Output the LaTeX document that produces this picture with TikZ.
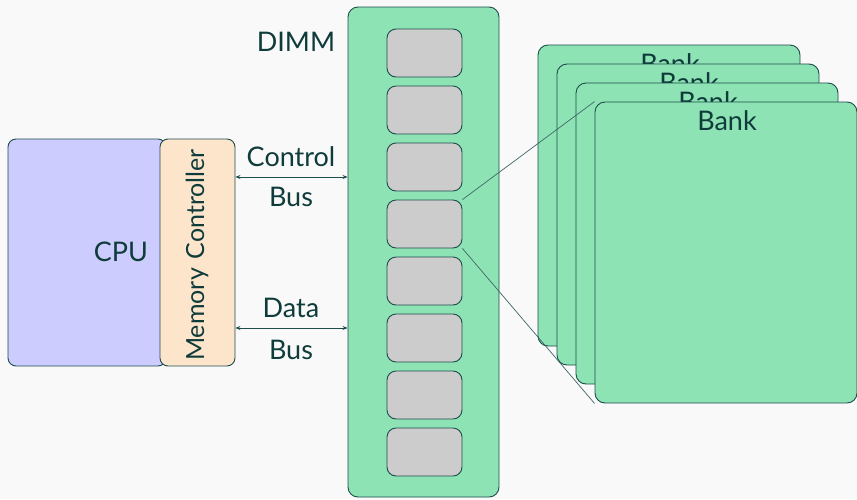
\documentclass[tikz,border=0pt]{standalone}
\usepackage{fontspec}
\setmainfont{Lato}
\usetikzlibrary{arrows.meta}
\definecolor{bg}{HTML}{F9F9F9}
\definecolor{ink}{HTML}{1D4C4C}
\definecolor{txt}{HTML}{0F3B3B}
\definecolor{cpufill}{HTML}{CCCCFF}
\definecolor{mcfill}{HTML}{FDE5CC}
\definecolor{green}{HTML}{8EE3B4}
\definecolor{chipfill}{HTML}{CCCCCC}
\begin{document}
\begin{tikzpicture}[x=1pt,y=-1pt,
  box/.style={draw=ink, line width=0.9pt, rounded corners=8pt, inner sep=0pt},
  chip/.style={box, fill=chipfill, minimum width=75pt, minimum height=48pt, rounded corners=9pt},
  bank/.style={box, fill=green, minimum width=262pt, minimum height=301pt, rounded corners=10pt},
  lbl/.style={text=txt, inner sep=0pt, font=\fontsize{27}{32}\selectfont},
  bus/.style={draw=ink, line width=0.7pt, {Stealth[length=5pt,width=4pt]}-{Stealth[length=5pt,width=4pt]}},
  link/.style={draw=ink!85!white, line width=0.7pt}]
\fill[bg] (0,0) rectangle (857,499);
\useasboundingbox (0,0) rectangle (857,499);

% processor with its memory controller
\node[box, fill=cpufill, minimum width=158pt, minimum height=227pt] (cpu) at (87,252.5) {};
\node[lbl] (cpulbl) at (121,252) {CPU};
\node[box, fill=mcfill, minimum width=75pt, minimum height=227pt] (mc) at (197.5,252.5) {};
\node[lbl, rotate=90, font=\fontsize{25}{30}\selectfont] (mclbl) at (197,255) {Memory\hspace{0.35em}Controller};

% memory module
\node[box, fill=green, minimum width=151pt, minimum height=490pt, rounded corners=10pt] (dimm) at (423.5,252) {};
\node[lbl] (dimmlbl) at (296,42) {DIMM};
\foreach \i in {1,...,8}{
  \node[chip] (c\i) at (424.5,{53+57*(\i-1)}) {};
}

% buses
\coordinate (cb1) at (mc.east |- 0,177);
\coordinate (cb2) at (dimm.west |- 0,177);
\coordinate (db1) at (mc.east |- 0,328);
\coordinate (db2) at (dimm.west |- 0,328);
\draw[bus] (cb1) -- (cb2);
\draw[bus] (db1) -- (db2);
\node[lbl] (cbt) at (291,157) {Control};
\node[lbl] (cbb) at (291,197) {Bus};
\node[lbl] (dbt) at (291,308) {Data};
\node[lbl] (dbb) at (291,350) {Bus};

% stacked banks
\foreach \k/\n in {3/b1,2/b2,1/b3,0/b4}{
  \node[bank] (\n) at ({726-19*\k},{252.5-19*\k}) {};
  \node[lbl] (\n lbl) at ({727-19*\k},{121-19*\k}) {Bank};
}

% zoom lines from one chip to the front bank
\draw[link] (c4.north east) -- (b4.north west);
\draw[link] (c4.south east) -- (b4.south west);
\end{tikzpicture}
\end{document}
